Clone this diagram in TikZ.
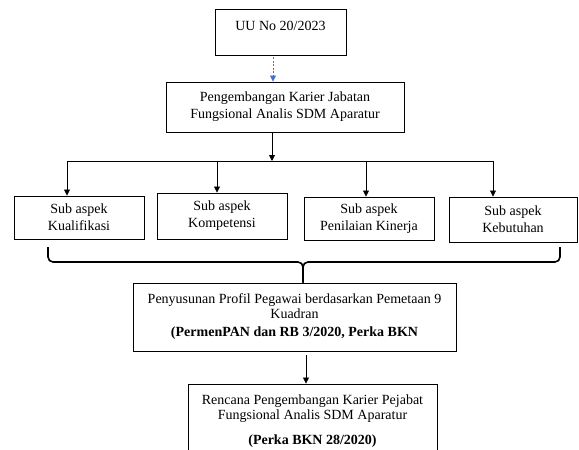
\documentclass[tikz,border=0pt]{standalone}
\usepackage{fontspec}
\setmainfont{Liberation Serif}
\usepackage{xcolor}
\usetikzlibrary{arrows.meta, positioning, calc}
\definecolor{wordblue}{RGB}{68,114,196}

\begin{document}
\begin{tikzpicture}[x=1pt, y=-1pt,
  box/.style    = {draw, line width=0.9pt, align=center, inner sep=0pt,
                   font=\fontsize{14}{17}\selectfont},
  tight/.style  = {font=\fontsize{14}{15}\selectfont},
  arr/.style    = {-{Triangle[length=6pt, width=6pt]}, line width=0.8pt},
  dasharr/.style= {-{Triangle[length=6pt, width=6pt]}, line width=0.8pt,
                   wordblue, dash pattern=on 2pt off 1.5pt},
  brace/.style  = {line width=1.6pt, rounded corners=5pt},
]
\useasboundingbox (0,0) rectangle (579,450);
\clip (0,0) rectangle (579,450);

% ── Legal basis and main topic ────────────────────────────────────────────────
\node[box, minimum width=131pt, minimum height=46pt, text depth=12pt]
      (uu) at (280.5,32) {UU No 20/2023};
\node[box, minimum width=238pt, minimum height=50pt]
      (peng) at (285,107) {Pengembangan Karier Jabatan\\Fungsional Analis SDM Aparatur};

% ── Sub aspects ───────────────────────────────────────────────────────────────
\node[box, minimum width=130pt, minimum height=43pt] (kual) at (79,217.5)  {Sub aspek\\Kualifikasi};
\node[box, minimum width=130pt, minimum height=46pt] (komp) at (222,216)   {Sub aspek\\Kompetensi};
\node[box, minimum width=130pt, minimum height=43pt] (pen)  at (369,218.5) {Sub aspek\\Penilaian Kinerja};
\node[box, minimum width=128pt, minimum height=45pt] (keb)  at (513,219.5) {Sub aspek\\Kebutuhan};

% ── Profile and plan ──────────────────────────────────────────────────────────
\node[box, tight, minimum width=323pt, minimum height=68pt]
      (peny) at (294.5,317)
      {Penyusunan Profil Pegawai berdasarkan Pemetaan 9\\Kuadran\\[3pt]
       \textbf{(PermenPAN dan RB 3/2020, Perka BKN}};
\node[box, tight, minimum width=249pt, minimum height=74pt]
      (renc) at (312.5,421)
      {Rencana Pengembangan Karier Pejabat\\Fungsional Analis SDM Aparatur\\[10pt]
       \textbf{(Perka BKN 28/2020)}};

% ── Connectors ────────────────────────────────────────────────────────────────
\coordinate (d0) at (273,57);
\draw[dasharr] (d0) -- (d0 |- peng.north);

\coordinate (split) at (272,161);
\draw[arr] (peng.south -| split) -- (split);

\coordinate (b1) at (67,161);
\coordinate (b2) at (217,161);
\coordinate (b3) at (366,161);
\coordinate (b4) at (493,161);
\draw[line width=0.8pt] (b1) -- (b4);
\foreach \c/\n in {b1/kual, b2/komp, b3/pen, b4/keb}
  \draw[arr] (\c) -- (\c |- \n.north);

% ── Brace into the profile box ────────────────────────────────────────────────
\coordinate (brL) at (48,247);
\coordinate (brR) at (560,247);
\coordinate (brM) at (303,262);
\draw[brace] (brL) -- (brL |- brM) -- (brM) -- (brM |- peny.north);
\draw[brace] (brR) -- (brR |- brM) -- (brM) -- (brM |- peny.north);

\coordinate (m2) at (306,355);
\draw[arr] (m2) -- (m2 |- renc.north);

\end{tikzpicture}
\end{document}
